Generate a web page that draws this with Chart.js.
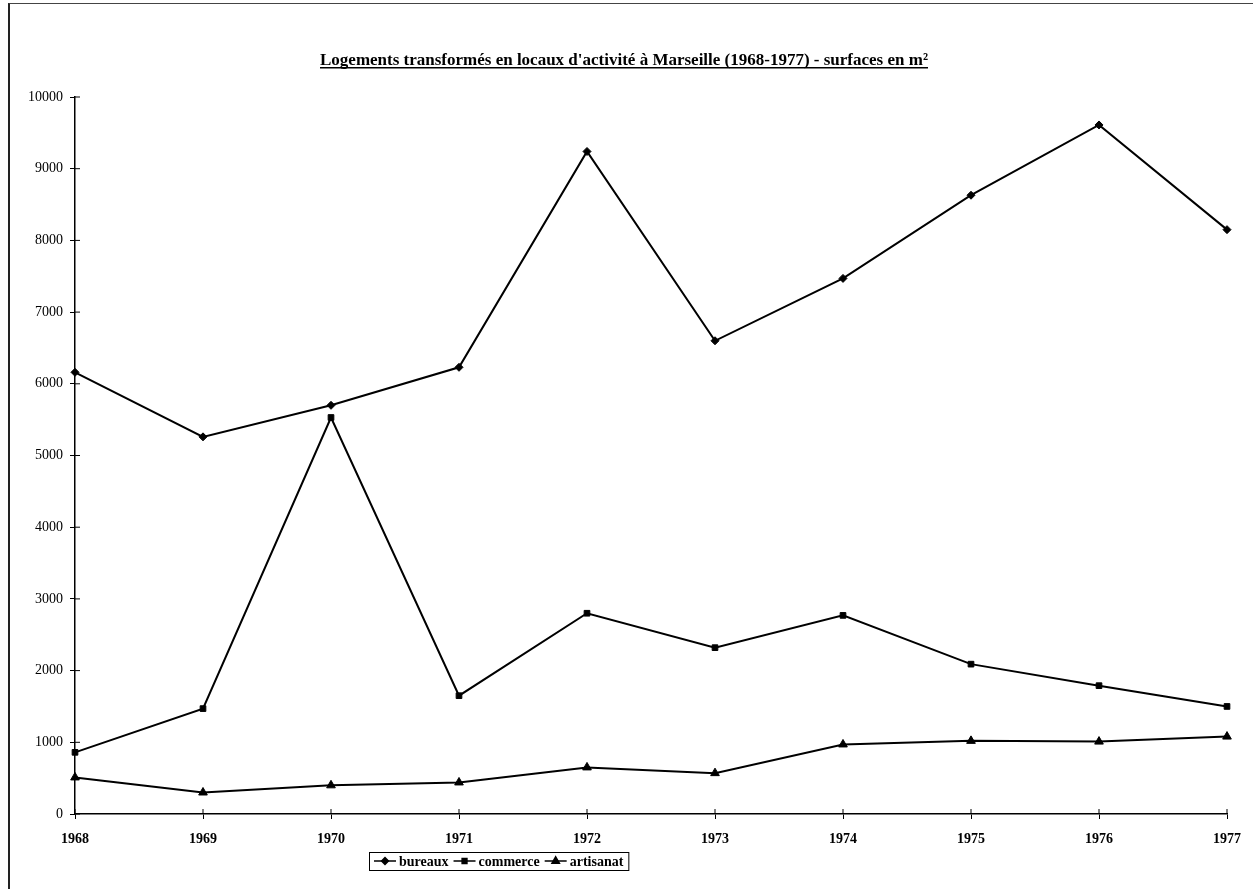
<!DOCTYPE html>
<html>
<head>
<meta charset="utf-8">
<script src="https://cdn.jsdelivr.net/npm/chart.js@4.4.1/dist/chart.umd.min.js"></script>
<style>
  html, body { margin: 0; padding: 0; background: #fff; }
  #wrap { position: relative; width: 1253px; height: 889px; }
  #frame { position: absolute; left: 8px; top: 3px; width: 1244px; height: 890px;
           border-left: 2px solid #222; border-top: 1px solid #444; }
  canvas { position: absolute; left: 0; top: 0; }
</style>
</head>
<body>
<div id="wrap">
  <div id="frame"></div>
  <canvas id="chart" width="1253" height="889"></canvas>
</div>
<script>
const years = ['1968', '1969', '1970', '1971', '1972', '1973', '1974', '1975', '1976', '1977'];

// surfaces en m2
const bureaux   = [6160, 5260, 5700, 6230, 9240, 6600, 7470, 8630, 9610, 8150];
const commerce  = [860, 1470, 5530, 1650, 2800, 2320, 2770, 2090, 1790, 1500];
const artisanat = [510, 300, 400, 440, 650, 570, 970, 1020, 1010, 1080];

const titleText = "Logements transformés en locaux d'activité à Marseille (1968-1977) - surfaces en m²";
const serif = "'Liberation Serif', 'DejaVu Serif', serif";

function series(label, values, style, radius) {
  return {
    label: label,
    data: values,
    borderColor: '#000',
    backgroundColor: '#000',
    borderWidth: 2,
    pointStyle: style,
    pointRadius: radius,
    pointBorderWidth: 1,
    tension: 0
  };
}

// title with underline, drawn above the plot
const titlePlugin = {
  id: 'underlinedTitle',
  afterDraw(chart) {
    const ctx = chart.ctx;
    ctx.save();
    ctx.font = 'bold 17px ' + serif;
    ctx.fillStyle = '#000';
    ctx.textAlign = 'center';
    ctx.textBaseline = 'alphabetic';
    const cx = 624, y = 65;
    ctx.fillText(titleText, cx, y);
    const w = ctx.measureText(titleText).width;
    ctx.fillRect(cx - w / 2, y + 2, w, 1.5);
    ctx.restore();
  }
};

// ticks cross the axes: draw the inner halves
const innerTicks = {
  id: 'innerTicks',
  afterDraw(chart) {
    const ctx = chart.ctx, a = chart.chartArea;
    const xs = chart.scales.x, ys = chart.scales.y;
    ctx.save();
    ctx.strokeStyle = '#000';
    ctx.lineWidth = 1;
    ctx.beginPath();
    ys.ticks.forEach((t, i) => {
      const y = ys.getPixelForTick(i);
      ctx.moveTo(a.left, y); ctx.lineTo(a.left + 5, y);
    });
    xs.ticks.forEach((t, i) => {
      const x = xs.getPixelForTick(i);
      ctx.moveTo(x, a.bottom); ctx.lineTo(x, a.bottom - 5);
    });
    ctx.stroke();
    ctx.restore();
  }
};

// boxed legend below the axis: line + marker + label
const boxLegend = {
  id: 'boxLegend',
  afterDraw(chart) {
    const ctx = chart.ctx;
    ctx.save();
    ctx.font = 'bold 14px ' + serif;
    ctx.textBaseline = 'middle';
    const left = 369, top = 852, h = 18;
    let x = left + 5;
    const y = top + h / 2;
    chart.data.datasets.forEach(ds => {
      ctx.strokeStyle = '#000';
      ctx.lineWidth = 1.5;
      ctx.beginPath();
      ctx.moveTo(x, y); ctx.lineTo(x + 22, y);
      ctx.stroke();
      ctx.fillStyle = '#000';
      Chart.helpers.drawPoint(ctx, {
        pointStyle: ds.pointStyle, radius: ds.pointRadius * 0.85,
        borderWidth: 1, rotation: 0
      }, x + 11, y);
      x += 25;
      ctx.fillText(ds.label, x, y + 1);
      x += ctx.measureText(ds.label).width + 5;
    });
    ctx.strokeStyle = '#000';
    ctx.lineWidth = 1;
    ctx.strokeRect(left + 0.5, top + 0.5, x - left, h);
    ctx.restore();
  }
};

new Chart(document.getElementById('chart'), {
  type: 'line',
  data: {
    labels: years,
    datasets: [
      series('bureaux', bureaux, 'rectRot', 4),
      series('commerce', commerce, 'rect', 4),
      series('artisanat', artisanat, 'triangle', 5)
    ]
  },
  options: {
    responsive: false,
    animation: false,
    layout: { padding: { top: 97, right: 18, bottom: 0, left: 0 } },
    plugins: {
      legend: { display: false },
      title: { display: false },
      tooltip: { enabled: false }
    },
    scales: {
      x: {
        offset: false,
        afterFit(scale) { scale.height = 75; },
        grid: { display: true, drawOnChartArea: false, drawTicks: true, tickLength: 5, color: '#000' },
        border: { display: true, color: '#000', width: 1.5 },
        ticks: { color: '#000', padding: 12, maxRotation: 0, font: { family: serif, size: 14, weight: 'bold' } }
      },
      y: {
        min: 0,
        max: 10000,
        afterFit(scale) { scale.width = 75; },
        grid: { display: true, drawOnChartArea: false, drawTicks: true, tickLength: 5, color: '#000' },
        border: { display: true, color: '#000', width: 1.5 },
        ticks: {
          stepSize: 1000, color: '#000', padding: 7,
          font: { family: serif, size: 14 },
          callback: v => String(v)
        }
      }
    }
  },
  plugins: [titlePlugin, innerTicks, boxLegend]
});
</script>
</body>
</html>
